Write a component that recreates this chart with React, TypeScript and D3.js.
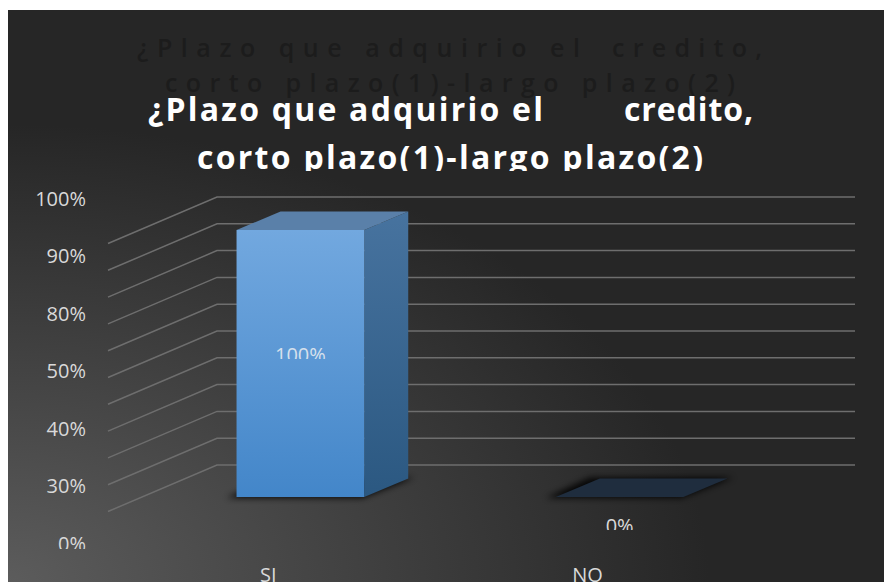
import * as d3 from "d3"

// chart data
const categories = ["SI", "NO"]
const values = [1, 0]
const dataLabels = ["100%", "0%"]
const yTickLabels = ["100%", "90%", "80%", "50%", "40%", "30%", "0%"]
const titleLine1 = ["¿Plazo que adquirio el", "credito,"]
const titleLine2 = "corto plazo(1)-largo plazo(2)"

const W = 884
const H = 582

// back wall + floor perspective
const wallLeft = 217
const wallRight = 855
const wallDepth = [-109, 46.5]
const barDepth = [44, -18.5]

const yBack = d3.scaleLinear([0, 1], [465, 197])
const yFront = d3.scaleLinear([0, 1], [497, 230])
const x = d3.scaleBand(categories, [45, 875]).padding(0.6)
const yLabel = d3.scalePoint(yTickLabels, [198, 543])

const font = "'Open Sans', 'DejaVu Sans', sans-serif"

function poly(pts: [number, number][]) {
  return "M" + pts.map((p) => p.join(",")).join("L") + "Z"
}

export default function App() {
  const bw = x.bandwidth()
  const [dx, dy] = barDepth

  return (
    <svg
      width={W}
      height={H}
      style={{ position: "absolute", left: 0, top: 0, display: "block" }}
    >
      <defs>
        <radialGradient id="bg" cx="0" cy="1" r="0.8" gradientUnits="objectBoundingBox">
          <stop offset="0%" stopColor="#5c5c5c" />
          <stop offset="100%" stopColor="#262626" />
        </radialGradient>
        <linearGradient id="front" x1="0" y1="0" x2="0" y2="1">
          <stop offset="0%" stopColor="#72a8df" />
          <stop offset="100%" stopColor="#4386c9" />
        </linearGradient>
        <linearGradient id="side" x1="0" y1="0" x2="0" y2="1">
          <stop offset="0%" stopColor="#47739f" />
          <stop offset="100%" stopColor="#2b5881" />
        </linearGradient>
        <filter id="blur" x="-20%" y="-50%" width="140%" height="200%">
          <feGaussianBlur stdDeviation="3" />
        </filter>
        <clipPath id="clipTitle">
          <rect x={0} y={0} width={W} height={171} />
        </clipPath>
      </defs>

      <rect x={8} y={10} width={W - 8} height={H - 10} fill="url(#bg)" />

      {/* shadow title */}
      <g fill="#1c1c1c" fontFamily={font} fontWeight={600} fontSize={25}>
        <text x={137} y={57} textLength={443} lengthAdjust="spacing">
          {titleLine1[0]}
        </text>
        <text x={612} y={57} textLength={150} lengthAdjust="spacing">
          {titleLine1[1]}
        </text>
        <text x={165} y={92} textLength={570} lengthAdjust="spacing">
          {titleLine2}
        </text>
      </g>

      {/* main title */}
      <g fill="#ffffff" fontFamily={font} fontWeight={700} fontSize={32}>
        <text x={148} y={121} textLength={395} lengthAdjust="spacing">
          {titleLine1[0]}
        </text>
        <text x={624} y={121} textLength={129} lengthAdjust="spacing">
          {titleLine1[1]}
        </text>
        <text
          x={197}
          y={169}
          textLength={506}
          lengthAdjust="spacing"
          clipPath="url(#clipTitle)"
        >
          {titleLine2}
        </text>
      </g>

      {/* gridlines on wall and side */}
      <g stroke="#6e6e6e" strokeWidth={1.5} fill="none">
        {yBack.ticks(10).map((t) => (
          <path
            key={t}
            d={`M${wallLeft + wallDepth[0]},${yBack(t) + wallDepth[1]}L${wallLeft},${yBack(t)}L${wallRight},${yBack(t)}`}
          />
        ))}
      </g>

      {/* y labels */}
      <g fill="#d9d9d9" fontFamily={font} fontSize={20} textAnchor="end">
        {yTickLabels.map((l) => {
          const cy = yLabel(l)!
          return (
            <g key={l}>
              <clipPath id={`cl-${l}`}>
                <rect x={0} y={cy - 20} width={120} height={l === "0%" ? 26 : 40} />
              </clipPath>
              <text x={86} y={cy + 7.5} clipPath={`url(#cl-${l})`}>
                {l}
              </text>
            </g>
          )
        })}
      </g>

      {/* bars */}
      {categories.map((c, i) => {
        const x0 = x(c)!
        const x1 = x0 + bw
        const yb = yFront(0)
        const yt = yFront(values[i])
        const foot: [number, number][] = [
          [x0 - 4, yb + 1],
          [x1 + 4, yb + 1],
          [x1 + dx + 12, yb + dy - 1],
          [x0 + dx - 4, yb + dy - 1],
        ]
        return (
          <g key={c}>
            <path d={poly(foot)} fill="#000" opacity={0.85} filter="url(#blur)" transform="translate(-6,0)" />
            {values[i] > 0 ? (
              <>
                <path
                  d={poly([
                    [x1, yt],
                    [x1 + dx, yt + dy],
                    [x1 + dx, yb + dy],
                    [x1, yb],
                  ])}
                  fill="url(#side)"
                />
                <path
                  d={poly([
                    [x0, yt],
                    [x0 + dx, yt + dy],
                    [x1 + dx, yt + dy],
                    [x1, yt],
                  ])}
                  fill="#5a80a9"
                />
                <rect x={x0} y={yt} width={bw} height={yb - yt} fill="url(#front)" />
              </>
            ) : (
              <path
                d={poly([
                  [x0, yb],
                  [x0 + dx, yb + dy],
                  [x1 + dx, yb + dy],
                  [x1, yb],
                ])}
                fill="#1f2d3e"
              />
            )}
          </g>
        )
      })}

      {/* data labels */}
      {categories.map((c, i) => {
        const cx = x(c)! + bw / 2
        const base = values[i] > 0 ? yFront(values[i] / 2) - 1.5 : yFront(0) + 36
        return (
          <g key={c}>
            <clipPath id={`dl-${c}`}>
              <rect x={cx - 60} y={base - 30} width={120} height={27} />
            </clipPath>
            <text
              x={cx}
              y={base}
              textAnchor="middle"
              fontFamily={font}
              fontSize={20}
              fill={values[i] > 0 ? "#d6e0ec" : "#d9d9d9"}
              clipPath={`url(#dl-${c})`}
            >
              {dataLabels[i]}
            </text>
          </g>
        )
      })}

      {/* category labels */}
      <g fill="#d9d9d9" fontFamily={font} fontSize={20} textAnchor="middle">
        {categories.map((c) => (
          <text key={c} x={x(c)! + bw / 2 - 32} y={582}>
            {c}
          </text>
        ))}
      </g>
    </svg>
  )
}
